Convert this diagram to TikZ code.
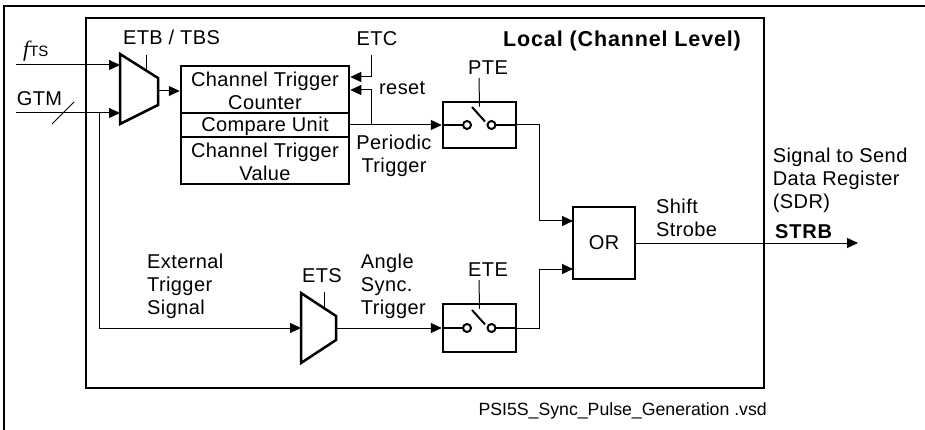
\documentclass[tikz,border=0pt]{standalone}
\usepackage{fontspec}
\setmainfont{Liberation Sans}[LetterSpace=2,BoldFeatures={LetterSpace=4}]
\newfontfamily\plainsans{Liberation Sans}
\newfontfamily\fserif{Liberation Serif}
\usetikzlibrary{arrows.meta,calc}
\tikzset{
  conn/.style={line width=1pt},
  arr/.style={conn, -{Triangle[length=11pt,width=10pt]}},
  blk/.style={draw, line width=2.5pt, inner sep=0pt},
  blkline/.style={line width=2.5pt, line join=miter},
  frame/.style={line width=2pt},
  lbl/.style={inner sep=0pt, font=\fontsize{20}{23}\selectfont},
  blbl/.style={inner sep=0pt, font=\bfseries\fontsize{20}{23}\selectfont},
  swsym/.pic={
    \draw[line width=2pt] (-36.5,0) -- (-16.5,0);
    \draw[line width=2pt] (-12.5,0) circle (4pt);
    \draw[line width=2pt] (12,0) circle (4pt);
    \draw[line width=2pt] (16,0) -- (36.5,0);
    \draw[line width=2pt] (-7.5,-18) -- (5.5,-3.5);
  }
}
\begin{document}
\begin{tikzpicture}[x=1pt,y=-1pt]
\useasboundingbox (0,0) rectangle (925,430);
% frames
\draw[frame] (4,430) -- (4,6) -- (925,6);
\draw[frame] (86,18) rectangle (764,388);

% blocks
\node[blk, minimum width=168pt, minimum height=118pt] (ctr) at (265,125) {};
\draw[blkline] (ctr.west |- 0,113) -- (ctr.east |- 0,113);
\draw[blkline] (ctr.west |- 0,137) -- (ctr.east |- 0,137);
\node[blk, minimum width=73pt, minimum height=46pt] (pte) at (479.5,125) {};
\node[blk, minimum width=73pt, minimum height=48pt] (ete) at (479.5,328) {};
\node[blk, minimum width=62pt, minimum height=72pt, font=\fontsize{20}{23}\selectfont] (or) at (604,243) {OR};
\pic at (pte.center) {swsym};
\pic at (ete.center) {swsym};

% ETB / TBS multiplexer
\coordinate (etbA) at (120,54);
\coordinate (etbB) at (158,78);
\coordinate (etbC) at (158,105);
\coordinate (etbD) at (120,124);
\draw[blkline] (etbA) -- (etbB) -- (etbC) -- (etbD) -- cycle;
\coordinate (etbin1) at (120,65);
\coordinate (etbin2) at (120,113);
\coordinate (etbout) at (158,91);
\coordinate (etbc1) at (146,55);
\coordinate (etbc2) at (146,70.4);

% ETS
\coordinate (etsA) at (301,293);
\coordinate (etsB) at (336,316);
\coordinate (etsC) at (336,340);
\coordinate (etsD) at (301,363);
\draw[blkline] (etsA) -- (etsB) -- (etsC) -- (etsD) -- cycle;
\coordinate (etsin) at (301,328);
\coordinate (etsout) at (336,328);
\coordinate (etsc1) at (324,292);
\coordinate (etsc2) at (324,308);

% inputs
\coordinate (fts) at (16,65);
\coordinate (gtm) at (16,113);
\coordinate (br) at (99,113);
\coordinate (sl1) at (52,124);
\coordinate (sl2) at (74,102);
\draw[arr] (fts) -- (etbin1);
\draw[arr] (gtm) -- (etbin2);
\draw[conn] (sl1) -- (sl2);
\draw[arr] (br) |- (etsin);
\draw[conn] (etbc1) -- (etbc2);
\draw[conn] (etsc1) -- (etsc2);
\draw[arr] (etbout) -- (ctr.west |- etbout);

% ETC / reset
\coordinate (etc1) at (371,55);
\coordinate (rst) at (371,125);
\draw[arr] (etc1) |- (ctr.east |- 0,77);
\draw[arr] (rst) |- (ctr.east |- 0,90);
\draw[arr] (ctr.east) -- (pte.west);

% switch controls
\coordinate (ptec) at (479,78);
\coordinate (etec) at (479,280);
\draw[conn] (ptec) -- ($(pte.north)+(0,6)$);
\draw[conn] (etec) -- ($(ete.north)+(0,6)$);

% ETS to ETE
\draw[arr] (etsout) -- (ete.west);

% to OR
\coordinate (orin1) at (573,221);
\coordinate (orin2) at (573,269);
\draw[arr] (pte.east) -- ++(22,0) |- (orin1);
\draw[arr] (ete.east) -- ++(22,0) |- (orin2);
\coordinate (strb) at (858,243);
\draw[arr] (or.east) -- (strb);

% labels
\node[anchor=base west, inner sep=0pt] (ftslbl) at (23,57) {{\fserif\itshape\fontsize{22}{22}\selectfont f}{\plainsans\fontsize{15}{15}\selectfont TS}};
\node[lbl, anchor=base west] (gtmlbl) at (16.7,106) {GTM};
\node[lbl, anchor=base] (etblbl) at (171.5,45) {ETB / TBS};
\node[lbl, anchor=base] (etclbl) at (377,45.5) {ETC};
\node[lbl, anchor=base west] (rstlbl) at (379,95) {reset};
\node[lbl, anchor=base] (ptelbl) at (488,75) {PTE};
\node[lbl, anchor=base] (etelbl) at (488,276) {ETE};
\node[lbl, anchor=base] (etslbl) at (322,282) {ETS};
\node[lbl, align=center, anchor=north] (ctrt1) at (265,71.4) {Channel Trigger\\Counter};
\node[lbl, anchor=base] (ctrt2) at (265,132) {Compare Unit};
\node[lbl, align=center, anchor=north] (ctrt3) at (265,142.6) {Channel Trigger\\Value};
\node[lbl, align=center, anchor=north] (perlbl) at (394,134.4) {Periodic\\Trigger};
\node[lbl, align=left, anchor=north west] (extlbl) at (147,253.5) {External\\Trigger\\Signal};
\node[lbl, align=left, anchor=north west] (anglbl) at (360.7,253.4) {Angle\\Sync.\\Trigger};
\node[lbl, align=left, anchor=north west] (shlbl) at (656,199) {Shift\\Strobe};
\node[blbl, anchor=base west] (strblbl) at (775,239) {STRB};
\node[lbl, align=left, anchor=north west] (sdrlbl) at (772.7,147.7) {Signal to Send\\Data Register\\(SDR)};
\node[inner sep=0pt, font=\bfseries\fontsize{21.5}{23}\selectfont, anchor=base west] (loclbl) at (503,46.7) {Local (Channel Level)};
\node[inner sep=0pt, font=\plainsans\fontsize{17.7}{20}\selectfont, anchor=base west] (filelbl) at (478.3,415) {PSI5S\_Sync\_Pulse\_Generation .vsd};
\end{tikzpicture}
\end{document}
